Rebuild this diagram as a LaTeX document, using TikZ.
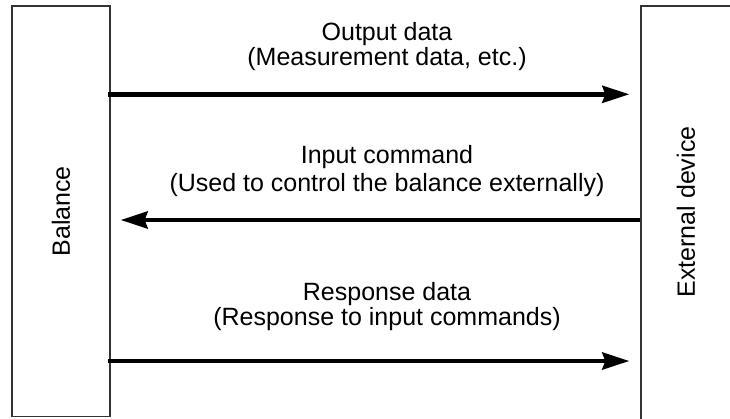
\documentclass[tikz,border=0pt]{standalone}
\usepackage{fontspec}
\setmainfont{Liberation Sans}
\usetikzlibrary{arrows.meta}
\begin{document}
\begin{tikzpicture}[x=1pt,y=-1pt,
  box/.style={draw=black!80, line width=1.3pt, inner sep=0pt},
  lbl/.style={font=\fontsize{25}{28}\selectfont, inner sep=0pt, anchor=base},
  side/.style={font=\fontsize{25}{28}\selectfont, inner sep=0pt, rotate=90},
  arr/.style={line width=4.5pt, -{Stealth[length=27pt,width=17pt,inset=3pt]}}]
\useasboundingbox (0,0) rectangle (730,418);
\clip (0,0) rectangle (730,418);
\node[box, minimum width=98pt, minimum height=410.7pt] (bal) at (61,211.3) {};
\node[box, minimum width=91pt, minimum height=416pt] (ext) at (686.5,214) {};
\node[side] (baltxt) at (bal.center) {Balance};
\node[side] (exttxt) at (686,212) {External device};
\coordinate (y1) at (0,94.3);
\coordinate (y2) at (0,220);
\coordinate (y3) at (0,361);
\node[lbl] (out1) at (387,40.7) {Output data};
\node[lbl] (out2) at (387,65) {(Measurement data, etc.)};
\node[lbl] (in1) at (387,163.3) {Input command};
\node[lbl] (in2) at (387,191.7) {(Used to control the balance externally)};
\node[lbl] (res1) at (387,300) {Response data};
\node[lbl] (res2) at (387,325) {(Response to input commands)};
\draw[arr, shorten <=-3pt, shorten >=11pt] (bal.east |- y1) -- (ext.west |- y1);
\draw[arr, shorten >=10pt] (ext.west |- y2) -- (bal.east |- y2);
\draw[arr, shorten <=-3pt, shorten >=11pt] (bal.east |- y3) -- (ext.west |- y3);
\end{tikzpicture}
\end{document}
